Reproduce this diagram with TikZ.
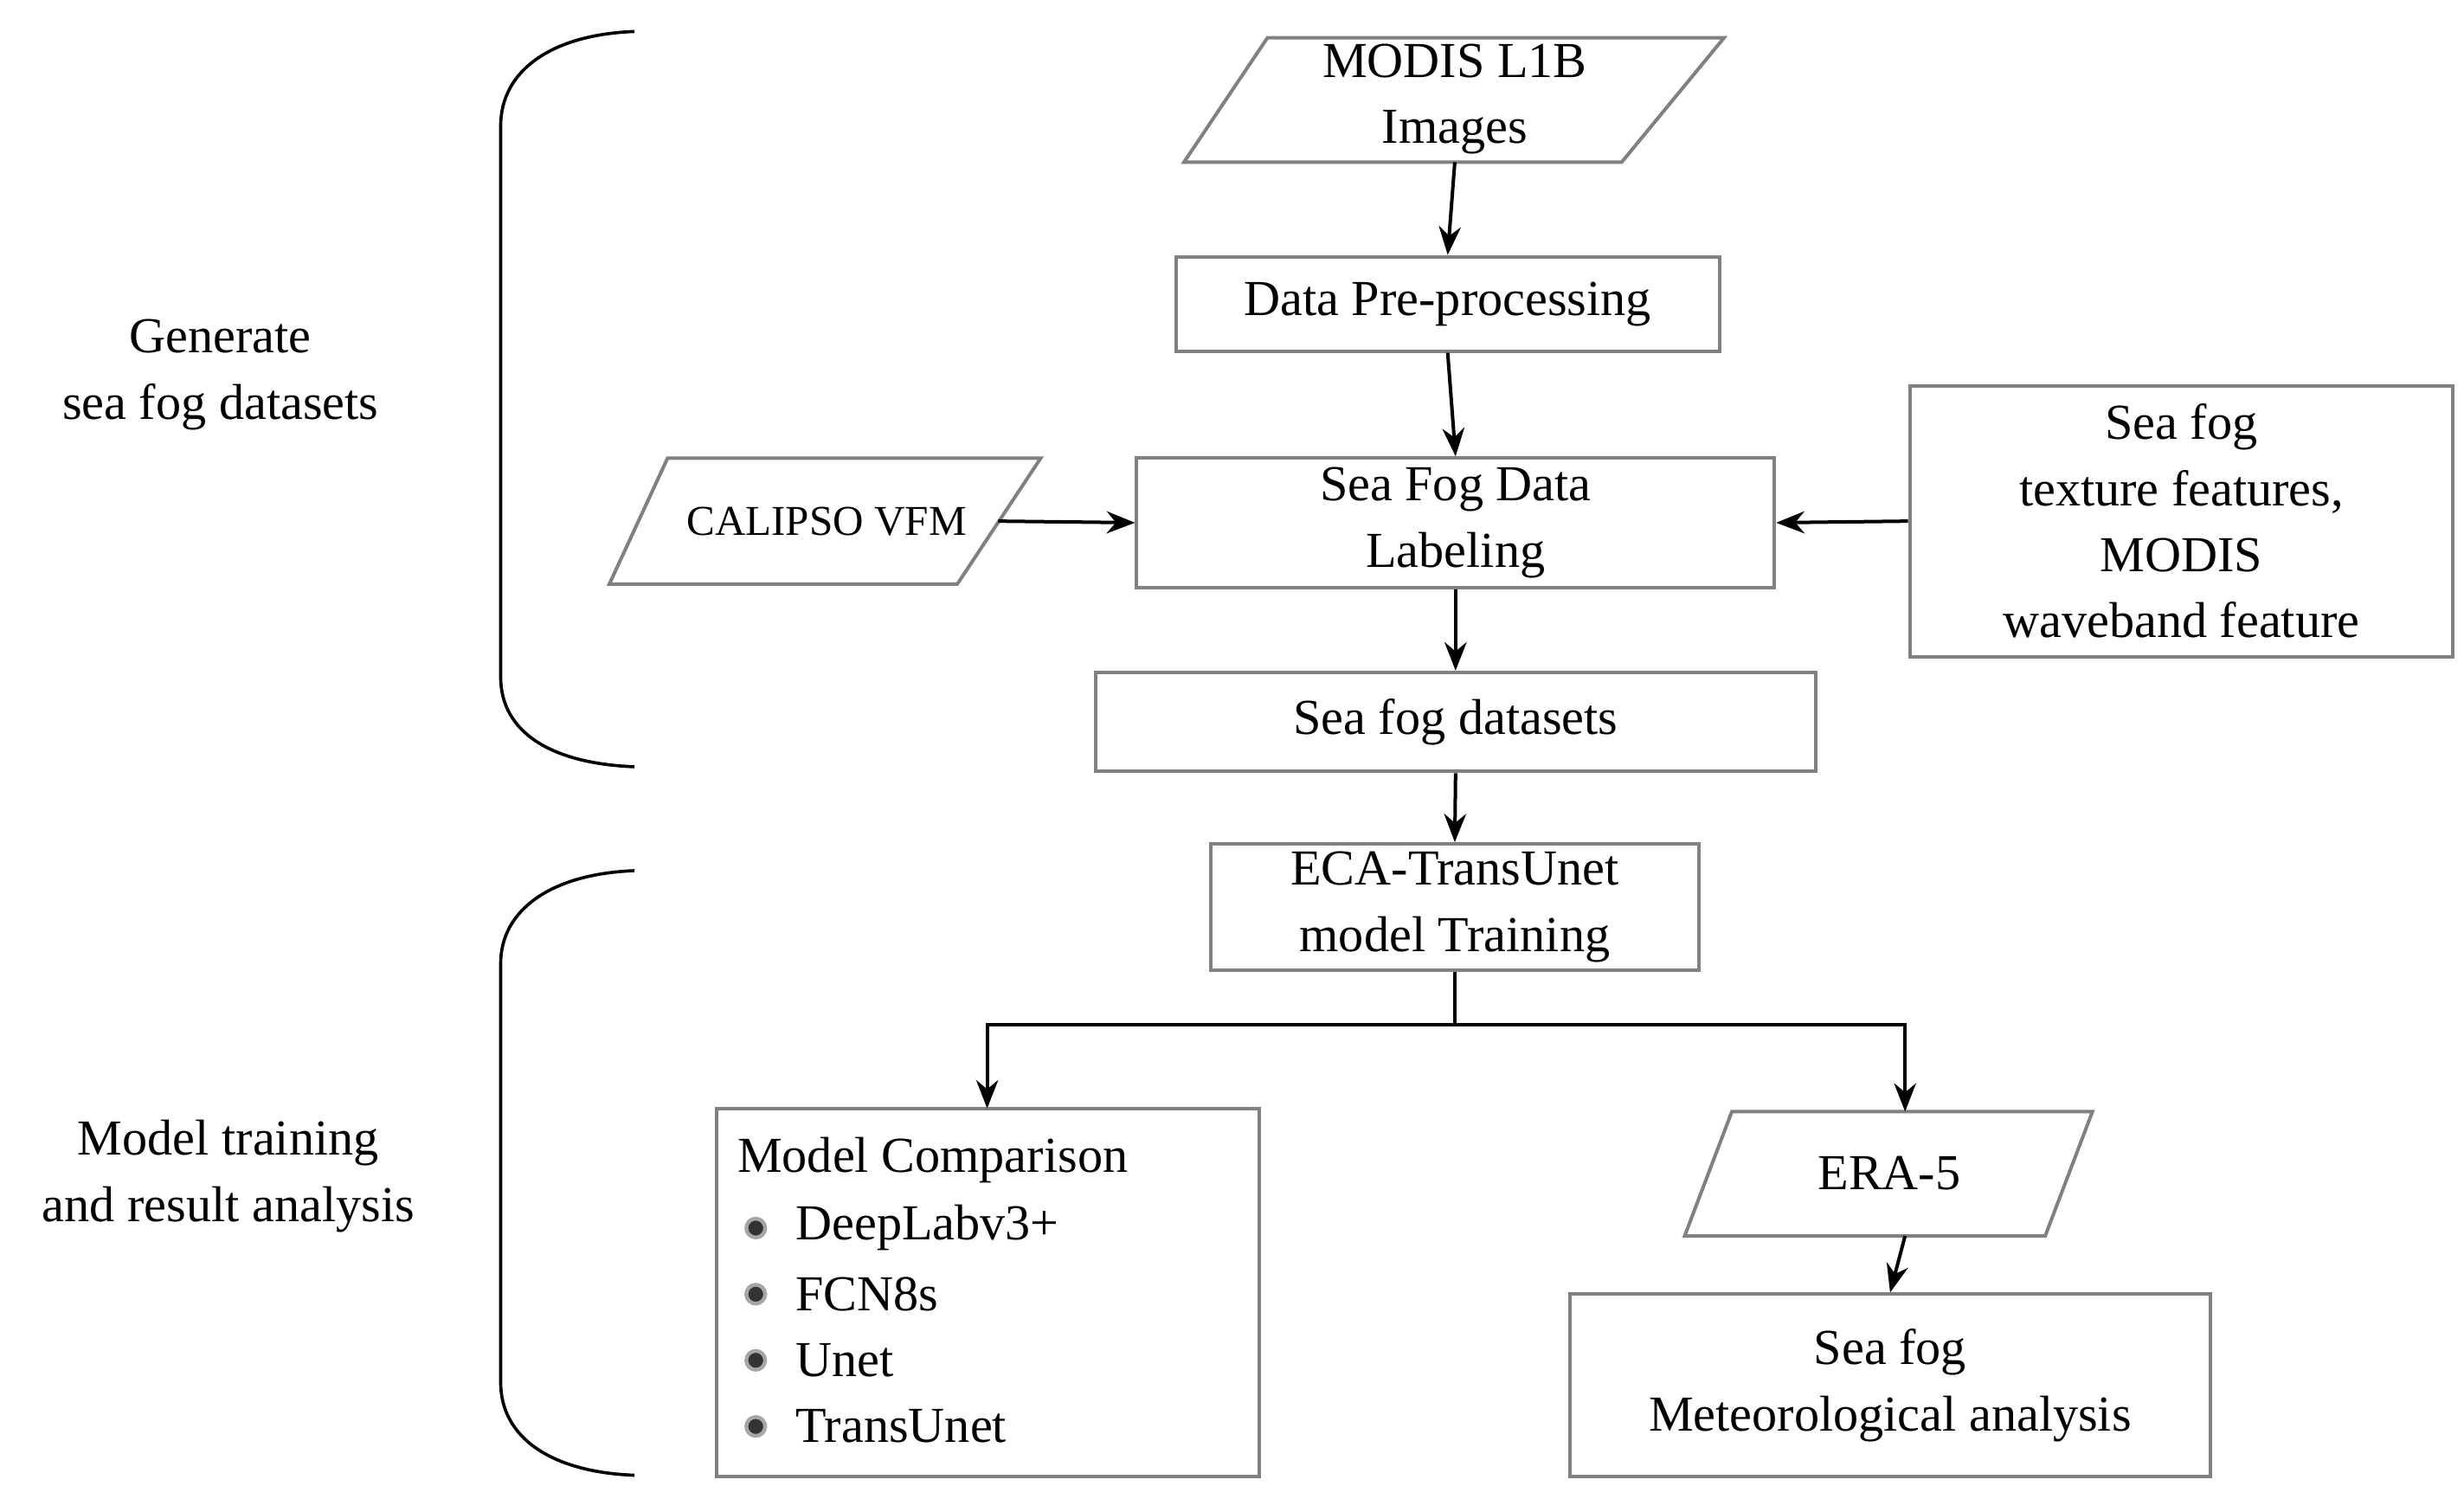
\documentclass[tikz,border=0pt]{standalone}
\usepackage{fontspec}
\setmainfont{Liberation Serif}
\usetikzlibrary{arrows.meta}
\begin{document}
\begin{tikzpicture}[x=0.5pt,y=-0.5pt,
  box/.style={draw=black!50,line width=1.1pt,inner sep=0pt},
  lbl/.style={inner sep=0pt,align=center,font=\fontsize{16}{21}\selectfont},
  arr/.style={-{Stealth[length=9pt,width=7pt]},line width=1.1pt,black},
  brace/.style={line width=1pt,black},
  bul/.style={circle,fill=black!80,draw=black!35,line width=1.2pt,inner sep=0pt,minimum size=6pt}]
\useasboundingbox (0,0) rectangle (1565,952);
% parallelograms
\draw[box] (805,24)--(1095,24)--(1030,103)--(752,103)--cycle;
\node[lbl] (modis) at (924,63) {MODIS L1B\\Images};
\draw[box] (424,291)--(661,291)--(608,371)--(387,371)--cycle;
\node[lbl,font=\fontsize{13.5}{16}\selectfont,minimum width=208pt/2] (cal) at (525,331) {CALIPSO VFM};
\draw[box] (1100,706)--(1329,706)--(1299,785)--(1070,785)--cycle;
\node[lbl] (era) at (1200,745) {ERA-5};
\coordinate (calE) at (634,331);
\coordinate (modisS) at (924,103);
\coordinate (eraN) at (1210,706);
\coordinate (eraS) at (1210,785);
% boxes
\node[box,lbl,minimum width=345*0.5pt,minimum height=60*0.5pt] (pre) at (919.5,193) {Data Pre-processing};
\node[box,lbl,minimum width=405*0.5pt,minimum height=82*0.5pt] (lab) at (924.5,332) {Sea Fog Data\\Labeling};
\node[box,lbl,minimum width=345*0.5pt,minimum height=172*0.5pt] (tex) at (1385.5,331) {Sea fog\\texture features,\\MODIS\\waveband feature};
\node[box,lbl,minimum width=457*0.5pt,minimum height=63*0.5pt] (ds) at (924.5,458.5) {Sea fog datasets};
\node[box,lbl,minimum width=310*0.5pt,minimum height=80*0.5pt] (eca) at (924,576) {ECA-TransUnet\\model Training};
\node[box,minimum width=345*0.5pt,minimum height=234*0.5pt,inner sep=0pt] (cmp) at (627.5,821) {};
\node[box,lbl,minimum width=407*0.5pt,minimum height=116*0.5pt] (met) at (1200.5,880) {Sea fog\\Meteorological analysis};
\node[lbl,anchor=west] (cmpt) at (468,737) {Model Comparison};
\foreach \t/\yy [count=\i] in {DeepLabv3+/780,FCN8s/822,Unet/864,TransUnet/906}{
  \node[bul] (b\i) at (480,\yy) {};
  \node[lbl,anchor=west] (t\i) at (505,\yy) {\t};
}
\node[lbl] (g1) at (140,238) {Generate\\sea fog datasets};
\node[lbl] (g2) at (145,747) {Model training\\and result analysis};
% arrows
\draw[arr] (modisS) -- (pre.north);
\draw[arr] (pre.south) -- (lab.north);
\draw[arr] (calE) -- (lab.west);
\draw[arr] (tex.west) -- (lab.east);
\draw[arr] (lab.south) -- (ds.north);
\draw[arr] (ds.south) -- (eca.north);
\coordinate (cmpN) at (627,704);
\draw[arr] (eca.south) -- ++(0,34) -| (cmpN);
\draw[arr] (eca.south) -- ++(0,34) -| (eraN);
\draw[arr] (eraS) -- (met.north);
% braces
\draw[brace] (403,20) .. controls (350,22) and (318,45) .. (318,80) -- (318,430) .. controls (318,465) and (350,485) .. (403,487);
\draw[brace] (403,553) .. controls (350,555) and (318,578) .. (318,612) -- (318,878) .. controls (318,913) and (350,935) .. (403,937);
\end{tikzpicture}
\end{document}
